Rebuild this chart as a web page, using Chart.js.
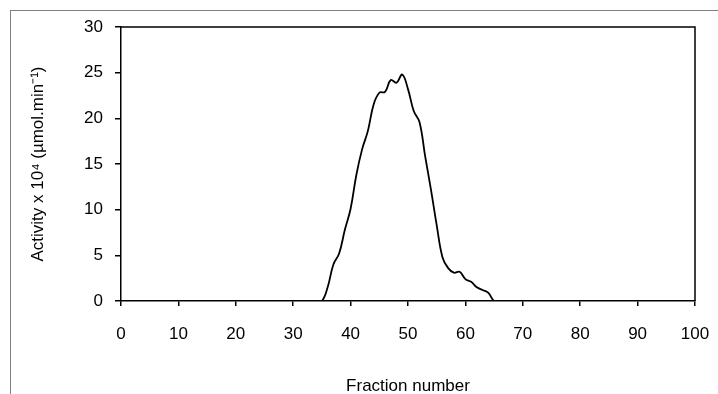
<!DOCTYPE html>
<html>
<head>
<meta charset="utf-8">
<script src="https://cdn.jsdelivr.net/npm/chart.js@4/dist/chart.umd.min.js"></script>
<style>
    html, body { margin: 0; padding: 0; background: #fff; overflow: hidden; }
    #wrap { position: relative; width: 718px; height: 394px; }
    #frame { position: absolute; left: 10px; top: 10px; width: 720px; height: 400px;
             border-top: 1px solid #808080; border-left: 1px solid #808080; }
    canvas { position: absolute; left: 0; top: 0; }
</style>
</head>
<body>
<div id="wrap">
    <div id="frame"></div>
    <canvas id="activity-chart" width="718" height="394"></canvas>
</div>
<script>
// fraction numbers 0..100
const fractions = [];
for (let i = 0; i <= 100; i++) fractions.push(i);

// activity x 10^4 (umol.min-1); fractions 35..65
const peakStart = 35;
const peakActivity = [
    0, 1.5, 4.0, 5.2, 7.8, 10.1, 13.8, 16.6, 18.6, 21.5,
    22.8, 22.9, 24.2, 23.9, 24.8, 23.2, 20.8, 19.6, 15.8, 12.2,
    8.3, 4.8, 3.6, 3.1, 3.2, 2.4, 2.1, 1.5, 1.2, 0.9, 0
];

const activity = fractions.map(f => {
    const k = f - peakStart;
    return (k >= 0 && k < peakActivity.length) ? peakActivity[k] : 0;
});

const xTicks = [0, 10, 20, 30, 40, 50, 60, 70, 80, 90, 100];
const yTicks = [0, 5, 10, 15, 20, 25, 30];

const font = { family: '"Liberation Sans", Arial, sans-serif', size: 17 };

// top and right edges of the plot box
const plotBox = {
    id: 'plotBox',
    afterDraw(chart) {
        const a = chart.chartArea;
        const ctx = chart.ctx;
        ctx.save();
        ctx.strokeStyle = '#000';
        ctx.lineWidth = 1.5;
        ctx.beginPath();
        ctx.moveTo(a.left, a.top);
        ctx.lineTo(a.right, a.top);
        ctx.lineTo(a.right, a.bottom);
        ctx.stroke();
        ctx.restore();
    }
};

const ctx = document.getElementById('activity-chart').getContext('2d');
const activityChart = new Chart(ctx, {
    type: 'line',
    data: {
        datasets: [{
            data: fractions.map((f, i) => ({ x: f, y: activity[i] })),
            borderColor: '#000',
            borderWidth: 1.8,
            pointRadius: 0,
            tension: 0.4,
            fill: false
        }]
    },
    options: {
        responsive: false,
        animation: false,
        layout: { padding: { left: 28, top: 27, right: 23, bottom: -3 } },
        plugins: { legend: { display: false }, tooltip: { enabled: false } },
        scales: {
            x: {
                type: 'linear',
                min: 0,
                max: 100,
                afterBuildTicks: scale => { scale.ticks = xTicks.map(v => ({ value: v })); },
                afterFit: scale => {
                    scale.height = 96;
                    scale.paddingLeft = 0;
                    scale.paddingRight = 0;
                },
                ticks: { color: '#000', font: font, padding: 18, maxRotation: 0 },
                grid: { drawOnChartArea: false, color: '#000', tickLength: 5, lineWidth: 1.5 },
                border: { color: '#000', width: 1.5 },
                title: { display: true, text: 'Fraction number', color: '#000', font: font, padding: 0 }
            },
            y: {
                min: 0,
                max: 30,
                afterBuildTicks: scale => { scale.ticks = yTicks.map(v => ({ value: v })); },
                afterFit: scale => {
                    scale.width = 121 - 28;
                    scale.paddingTop = 0;
                    scale.paddingBottom = 0;
                },
                ticks: { color: '#000', font: font, padding: 12 },
                grid: { drawOnChartArea: false, color: '#000', tickLength: 6, lineWidth: 1.5 },
                border: { color: '#000', width: 1.5 },
                title: { display: true, text: 'Activity x 10⁴ (µmol.min⁻¹)', color: '#000', font: font, padding: 0 }
            }
        }
    },
    plugins: [plotBox]
});
</script>
</body>
</html>
